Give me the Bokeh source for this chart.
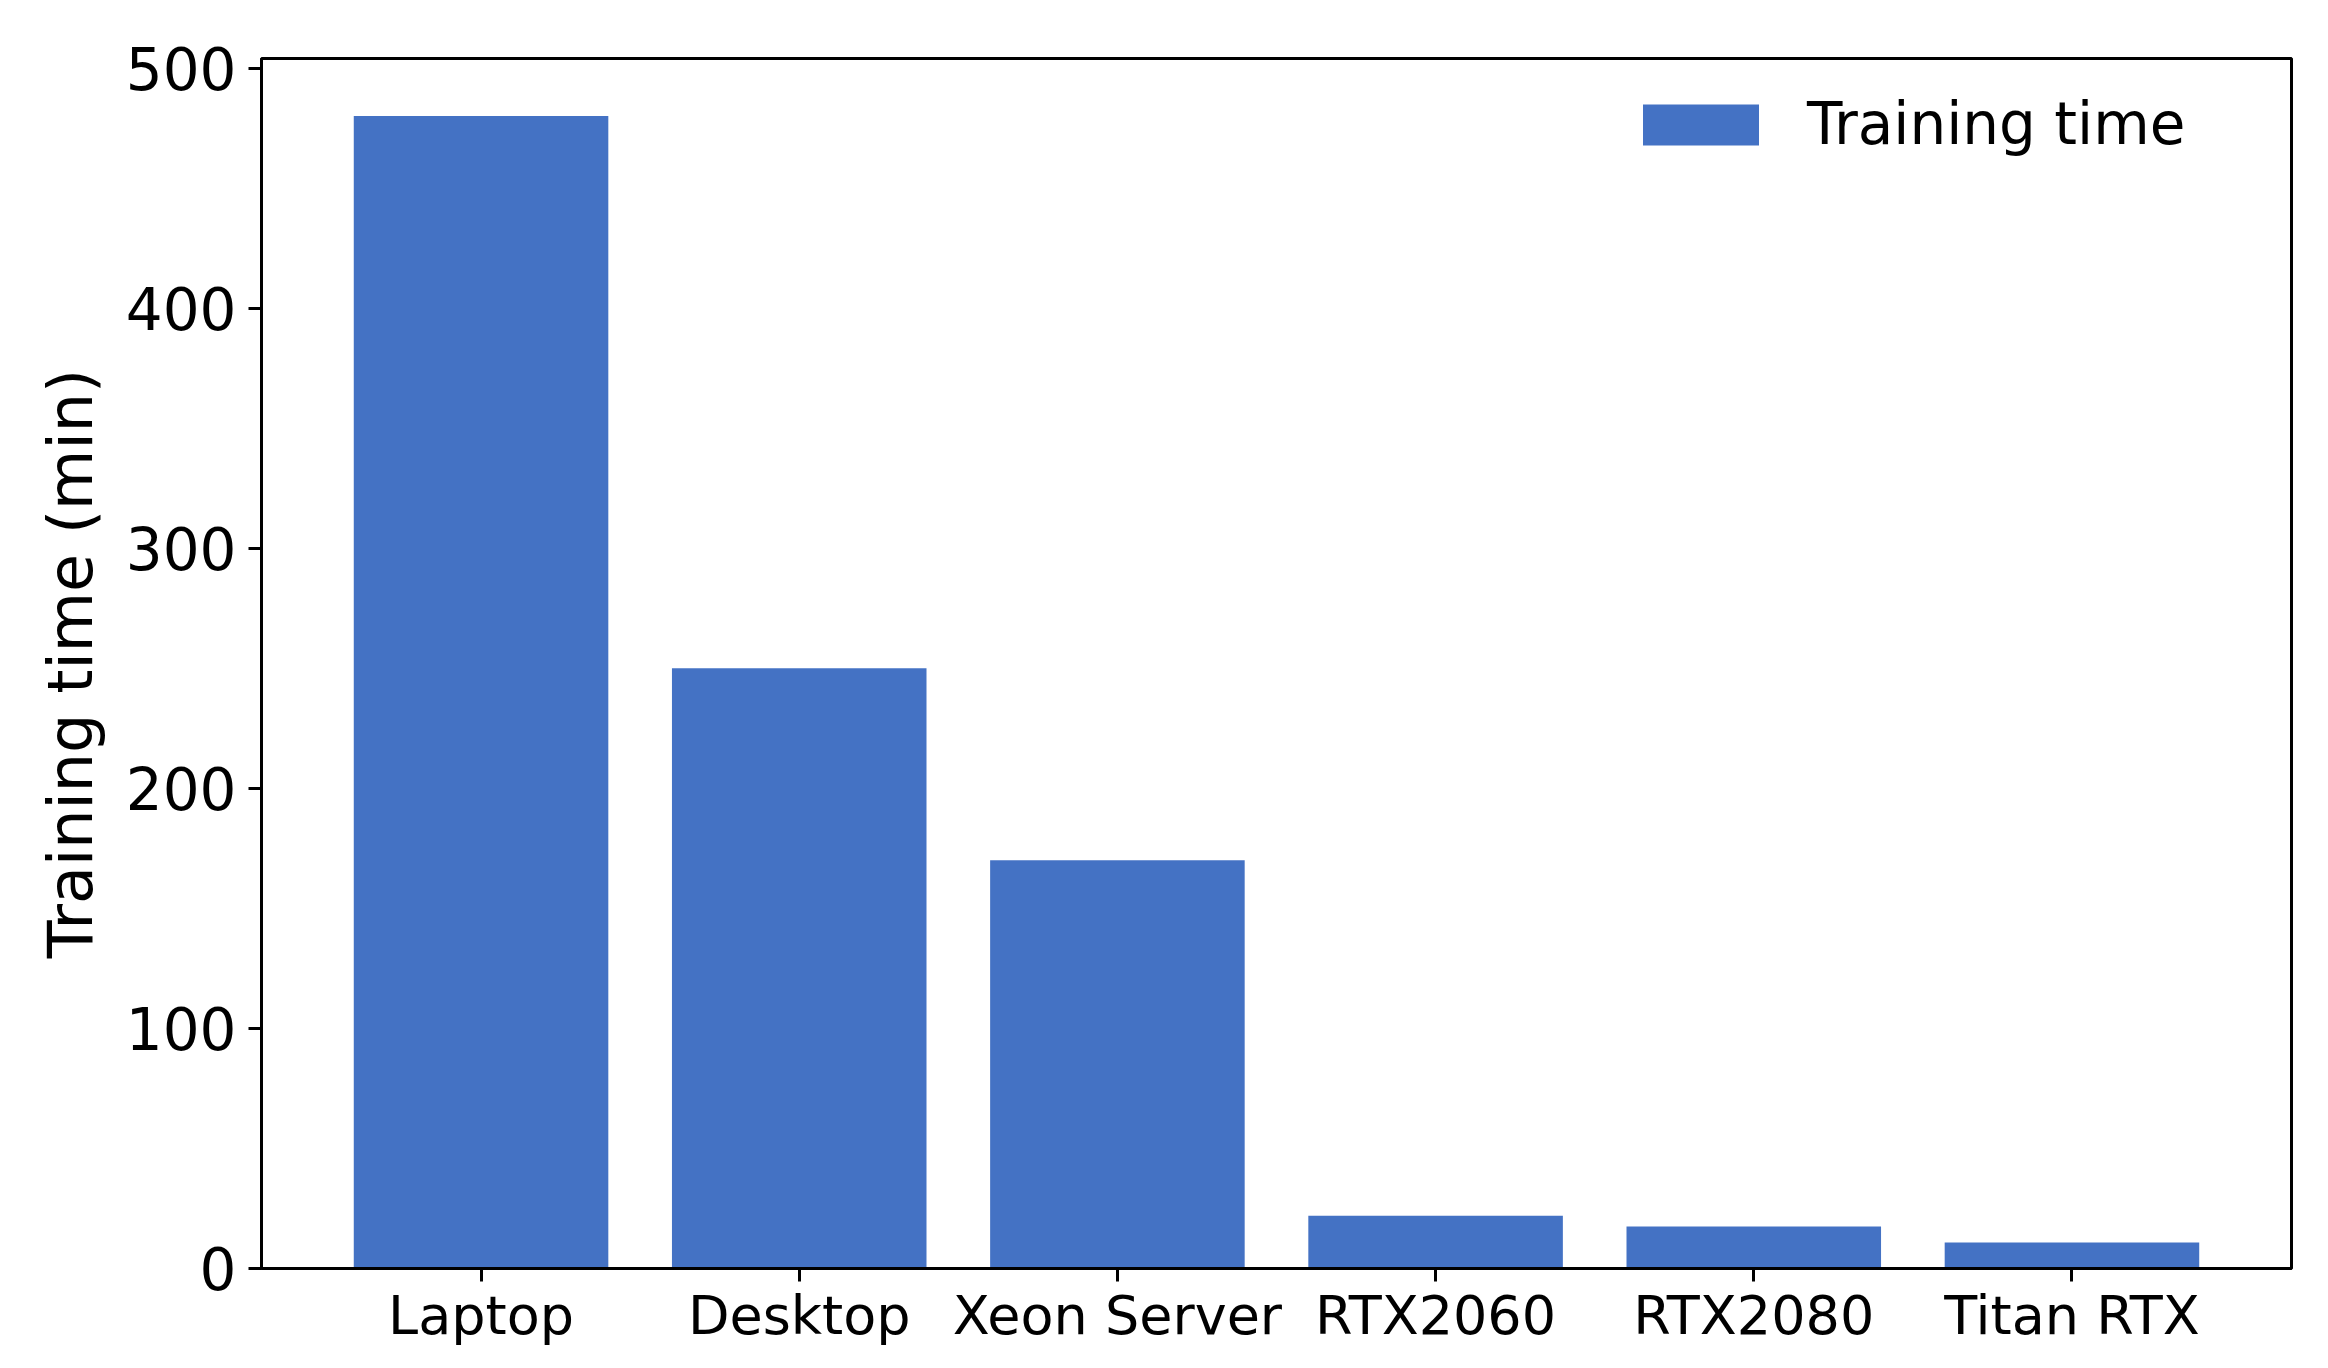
from bokeh.plotting import figure
from bokeh.models import ColumnDataSource, Range1d, FixedTicker, Legend, LegendItem
from bokeh.embed import file_html
from bokeh.resources import INLINE

categories = ["Laptop", "Desktop", "Xeon Server", "RTX2060", "RTX2080", "Titan RTX"]
training_time = [480, 250, 170, 22, 17.5, 10.8]
y_ticks = [0, 100, 200, 300, 400, 500]

xs = list(range(len(categories)))
source = ColumnDataSource(dict(x=xs, top=training_time, cat=categories))

FONT = "DejaVu Sans"

p = figure(frame_width=2030, frame_height=1210, output_backend="svg", toolbar_location=None,
           x_range=Range1d(-0.69, len(categories) - 1 + 0.69), y_range=Range1d(0, 504),
           min_border_left=261, min_border_right=29, min_border_top=58, min_border_bottom=90)

r = p.vbar(x="x", top="top", width=0.8, bottom=0, source=source,
           fill_color="#4472C4", line_color=None)

p.xgrid.visible = False
p.ygrid.visible = False
p.outline_line_color = "black"
p.outline_line_width = 3
p.background_fill_color = "white"
p.border_fill_color = "white"

p.xaxis.ticker = FixedTicker(ticks=xs)
p.xaxis.major_label_overrides = {i: c for i, c in enumerate(categories)}
p.yaxis.ticker = FixedTicker(ticks=y_ticks)
p.yaxis.axis_label = "Training time (min)"

for ax in (p.xaxis[0], p.yaxis[0]):
    ax.axis_line_width = 3
    ax.axis_line_color = "black"
    ax.major_tick_line_width = 3
    ax.major_tick_line_color = "black"
    ax.major_tick_out = 13
    ax.major_tick_in = 0
    ax.minor_tick_line_color = None
    ax.major_label_text_font = FONT
    ax.major_label_text_color = "black"
    ax.axis_label_text_font = FONT
    ax.axis_label_text_font_style = "normal"
    ax.axis_label_text_color = "black"

p.xaxis.major_label_text_font_size = "54px"
p.yaxis.major_label_text_font_size = "58px"
p.yaxis.axis_label_text_font_size = "62px"
p.xaxis.major_label_standoff = 2
p.yaxis.major_label_standoff = 12
p.yaxis.axis_label_standoff = 16

legend = Legend(items=[LegendItem(label="Training time", renderers=[r])],
                location=(1367, 1110), orientation="vertical")
legend.glyph_width = 145
legend.glyph_height = 51
legend.label_standoff = 34
legend.label_text_font = FONT
legend.label_text_font_size = "58px"
legend.label_text_color = "black"
legend.padding = 0
legend.margin = 0
legend.spacing = 0
legend.border_line_alpha = 0
legend.background_fill_alpha = 0
p.add_layout(legend, "center")

open("out.html", "w").write(file_html(p, INLINE))
